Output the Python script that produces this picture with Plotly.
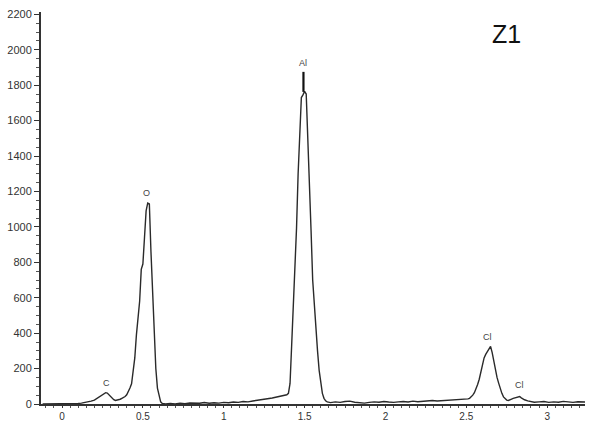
import plotly.graph_objects as go

# Energy (keV) and counts of the EDS spectrum
energy = [
    -0.12, -0.08, -0.04, 0.00, 0.04, 0.08, 0.10, 0.12, 0.14, 0.16, 0.18, 0.20,
    0.22, 0.23, 0.24, 0.25, 0.26, 0.27, 0.28, 0.29, 0.30, 0.31, 0.32, 0.33,
    0.34, 0.35, 0.36, 0.37, 0.38, 0.39, 0.40, 0.41,
    0.42, 0.43, 0.44, 0.45, 0.46, 0.47, 0.48, 0.49, 0.50, 0.51, 0.52, 0.53,
    0.54, 0.55, 0.56, 0.57, 0.58, 0.59, 0.60, 0.61, 0.62,
    0.64, 0.67, 0.70, 0.73, 0.76, 0.79, 0.82, 0.85, 0.88, 0.91, 0.94, 0.97,
    1.00, 1.03, 1.06, 1.09, 1.12, 1.15, 1.18, 1.21, 1.24, 1.27, 1.30, 1.33,
    1.36, 1.38, 1.39, 1.40,
    1.41, 1.42, 1.43, 1.44, 1.45, 1.46, 1.47, 1.48, 1.49, 1.50, 1.51, 1.52,
    1.53, 1.54, 1.55, 1.56, 1.57, 1.58, 1.59, 1.60, 1.61, 1.62, 1.63, 1.64,
    1.66,
    1.69, 1.72, 1.75, 1.78, 1.81, 1.84, 1.87, 1.90, 1.93, 1.96, 1.99, 2.02,
    2.05, 2.08, 2.11, 2.14, 2.17, 2.20, 2.23, 2.26, 2.29, 2.32, 2.35, 2.38,
    2.41, 2.44, 2.47, 2.49, 2.51, 2.52,
    2.53, 2.54, 2.55, 2.56, 2.57, 2.58, 2.59, 2.60, 2.61, 2.62, 2.63, 2.64,
    2.65, 2.66, 2.67, 2.68, 2.69, 2.70, 2.71, 2.72, 2.73, 2.74, 2.75, 2.76,
    2.77, 2.78, 2.79, 2.80, 2.81, 2.82, 2.83, 2.84, 2.85, 2.86, 2.88, 2.90,
    2.92,
    2.95, 2.98, 3.01, 3.04, 3.07, 3.10, 3.13, 3.16, 3.19, 3.22, 3.24,
]
counts = [
    0, 0, 0, 0, 0, 1, 3, 5, 8, 12, 16, 22,
    34, 40, 46, 54, 60, 64, 62, 52, 40, 30, 24, 20,
    21, 24, 27, 32, 36, 42, 52, 67,
    90, 114, 180, 260, 390, 480, 580, 760, 790, 940, 1090, 1135,
    1130, 860, 600, 400, 200, 90, 40, 12, 3,
    0, 3, 0, 5, 2, 6, 3, 4, 8, 4, 7, 5,
    9, 7, 11, 9, 14, 12, 17, 20, 25, 30, 34, 40,
    45, 48, 52, 60,
    116, 330, 530, 716, 990, 1300, 1560, 1730, 1745, 1765, 1750, 1520,
    1250, 980, 700, 560, 400, 300, 190, 120, 60, 32, 18, 12,
    8,
    12, 9, 14, 16, 10, 7, 5, 9, 12, 10, 14, 11,
    9, 12, 14, 11, 16, 13, 15, 18, 20, 17, 19, 22,
    20, 23, 27, 28, 29, 32,
    40, 50, 64, 85, 110, 140, 185, 220, 260, 280, 293, 305,
    325, 290, 240, 200, 150, 118, 85, 60, 40, 30, 22, 20,
    22, 28, 32, 35, 36, 40, 42, 35, 28, 24, 18, 12,
    10,
    12, 14, 9, 12, 10, 15, 12, 9, 13, 10, 11,
]

# Peak labels
label_text = ["C", "O", "Al", "Cl", "Cl"]
label_energy = [0.272, 0.52, 1.49, 2.634, 2.826]
label_count = [116, 1189, 1925, 381, 105]

# Al peak marker line (energy, bottom, top)
marker_energy = [1.493, 1.493]
marker_count = [1762, 1875]

x_tickvals = [0, 0.5, 1, 1.5, 2, 2.5, 3]
x_ticktext = ["0", "0.5", "1", "1.5", "2", "2.5", "3"]
y_tickvals = list(range(0, 2201, 200))

fig = go.Figure()
fig.add_trace(go.Scatter(
    x=energy, y=counts, mode="lines",
    line=dict(color="#2a2a2a", width=1.4),
    hoverinfo="skip", showlegend=False,
))
fig.add_trace(go.Scatter(
    x=marker_energy, y=marker_count, mode="lines",
    line=dict(color="#111111", width=2.2),
    hoverinfo="skip", showlegend=False,
))

for t, xe, yc in zip(label_text, label_energy, label_count):
    fig.add_annotation(x=xe, y=yc, text=t, showarrow=False,
                       xanchor="center", yanchor="middle",
                       font=dict(family="Liberation Sans, Arial", size=9, color="#444444"))

fig.add_annotation(x=0.855, y=0.943, xref="paper", yref="paper", text="Z1",
                   showarrow=False, xanchor="center", yanchor="middle",
                   font=dict(family="Liberation Sans, Arial", size=25, color="#111111"))

fig.update_layout(
    width=590, height=421,
    margin=dict(l=41, r=5, t=12, b=17, pad=0),
    paper_bgcolor="white", plot_bgcolor="white",
    template="none",
    showlegend=False,
)
fig.update_xaxes(
    range=[-0.13, 3.234], autorange=False, automargin=False,
    tickvals=x_tickvals, ticktext=x_ticktext,
    showgrid=False, zeroline=False,
    showline=True, linecolor="#333333", linewidth=1.5,
    ticks="outside", ticklen=2, tickwidth=1, tickcolor="#333333",
    minor=dict(dtick=0.05, tick0=0, ticks="outside", ticklen=2, tickwidth=1, tickcolor="#555555", showgrid=False),
    tickfont=dict(family="Liberation Sans, Arial", size=10, color="#333333"),
)
fig.update_yaxes(
    range=[0, 2213], autorange=False, automargin=False,
    tickvals=y_tickvals,
    showgrid=False, zeroline=False,
    showline=True, linecolor="#333333", linewidth=2,
    ticks="outside", ticklen=5, tickwidth=1, tickcolor="#333333",
    minor=dict(dtick=50, tick0=0, ticks="outside", ticklen=3, tickwidth=1, tickcolor="#555555", showgrid=False),
    tickfont=dict(family="Liberation Sans, Arial", size=11, color="#333333"),
)

fig.write_html("out.html")
